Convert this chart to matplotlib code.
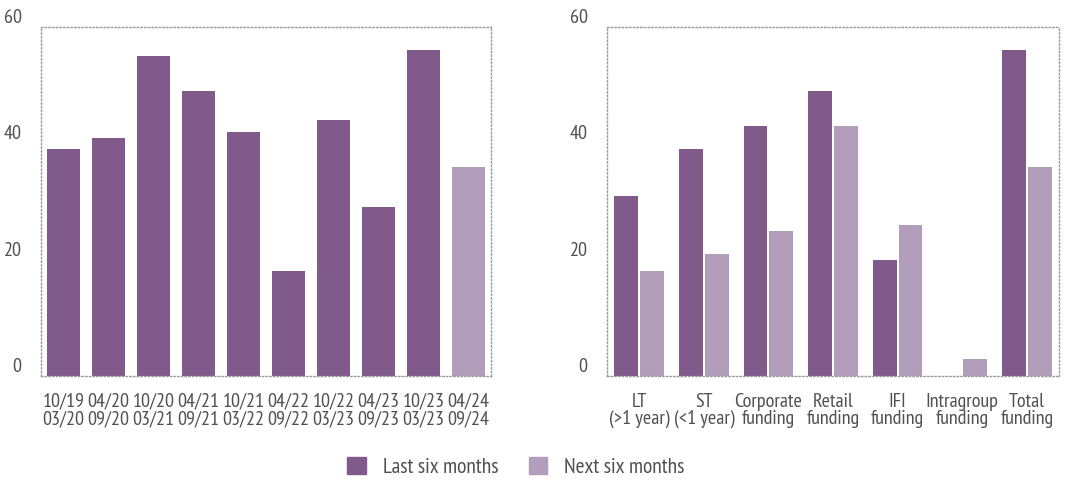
import matplotlib.pyplot as plt
import numpy as np
from matplotlib.patches import Patch

plt.rcParams['font.family'] = ['PT Sans Narrow', 'DejaVu Sans']

# left panel: survey periods
periods = ['10/19\n03/20', '04/20\n09/20', '10/20\n03/21', '04/21\n09/21', '10/21\n03/22',
           '04/22\n09/22', '10/22\n03/23', '04/23\n09/23', '10/23\n03/23', '04/24\n09/24']
period_vals = [39, 41, 55, 49, 42, 18, 44, 29, 56, 36]
period_is_next = [False] * 9 + [True]

# right panel: funding types
funding = ['LT\n(>1 year)', 'ST\n(<1 year)', 'Corporate\nfunding', 'Retail\nfunding',
           'IFI\nfunding', 'Intragroup\nfunding', 'Total\nfunding']
last_six = [31, 39, 43, 49, 20, 0, 56]
next_six = [18, 21, 25, 43, 26, 3, 36]

yticks = [0, 20, 40, 60]

dark = '#7f5a8b'
light = '#b29eba'
txt = '#505050'

fig = plt.figure(figsize=(10.78, 4.82), dpi=100)
ax1 = fig.add_axes([41/1078, 106/482, 450/1078, 349/482])
ax2 = fig.add_axes([607/1078, 106/482, 452/1078, 349/482])

x1 = np.arange(len(periods))
ax1.bar(x1, period_vals, width=0.73,
        color=[light if n else dark for n in period_is_next])
ax1.set_xlim(-0.5, len(periods) - 0.5)
ax1.set_xticks(x1)
ax1.set_xticklabels(periods)

x2 = np.arange(len(funding))
ax2.bar(x2 - 0.2, last_six, width=0.37, color=dark)
ax2.bar(x2 + 0.2, next_six, width=0.37, color=light)
ax2.set_xlim(-0.5, len(funding) - 0.5)
ax2.set_xticks(x2)
ax2.set_xticklabels(funding)

for ax in (ax1, ax2):
    ax.set_ylim(0, 60)
    ax.set_yticks(yticks)
    ax.tick_params(length=0, labelsize=14.5, labelcolor=txt)
    ax.tick_params(axis='x', pad=12)
    ax.tick_params(axis='y', pad=14)
    for lab in ax.get_yticklabels():
        lab.set_verticalalignment('bottom')
    for lab in ax.get_xticklabels():
        lab.set_linespacing(0.95)
    for s in ax.spines.values():
        s.set_linestyle(':')
        s.set_color('#999999')
        s.set_linewidth(1)

handles = [Patch(color=dark, label='Last six months'),
           Patch(color=light, label='Next six months')]
leg = fig.legend(handles=handles, loc='center', bbox_to_anchor=(516/1078, 15/482), ncol=2,
                 frameon=False, fontsize=15.5, handlelength=0.85, handleheight=0.85,
                 columnspacing=1.4, handletextpad=0.8)
for t in leg.get_texts():
    t.set_color(txt)

fig.savefig('out.png', dpi=100)
